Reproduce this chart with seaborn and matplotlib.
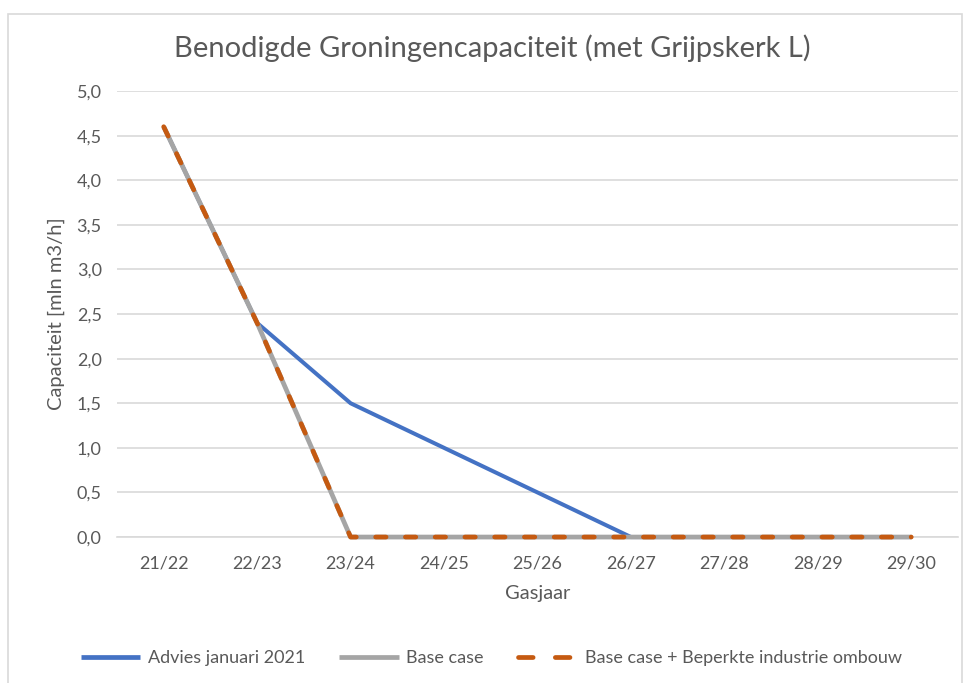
import pandas as pd
import matplotlib
matplotlib.use("Agg")
import matplotlib.pyplot as plt
import seaborn as sns
from matplotlib.lines import Line2D
from matplotlib.patches import Rectangle
from matplotlib.ticker import FuncFormatter

# ── data ──
gasjaar = ['21/22', '22/23', '23/24', '24/25', '25/26', '26/27', '27/28', '28/29', '29/30']
advies_2021 = [4.6, 2.4, 1.5, 1.0, 0.5, 0.0, 0.0, 0.0, 0.0]
base_case = [4.6, 2.4, 0.0, 0.0, 0.0, 0.0, 0.0, 0.0, 0.0]
base_beperkt = [4.6, 2.4, 0.0, 0.0, 0.0, 0.0, 0.0, 0.0, 0.0]

series = {
    'Advies januari 2021': advies_2021,
    'Base case': base_case,
    'Base case + Beperkte industrie ombouw': base_beperkt,
}
df = pd.DataFrame({'Gasjaar': gasjaar, **series})
df['pos'] = range(len(gasjaar))

sns.set_style('white')
plt.rcParams['font.family'] = ['Lato', 'DejaVu Sans']
txt = '#595959'

fig = plt.figure(figsize=(9.7, 6.83), dpi=100)
ax = fig.add_axes([0.1206, 0.2137, 0.867, 0.653])

# chart frame
fig.patches.append(Rectangle((8 / 970, -0.01), 954 / 970, 1 - 14 / 683 + 0.01,
                             transform=fig.transFigure, fill=False,
                             edgecolor='#D9D9D9', linewidth=1.2))

styles = {
    'Advies januari 2021': dict(color='#4472C4', lw=2.9, ls='-'),
    'Base case': dict(color='#A5A5A5', lw=3.4, ls='-'),
    'Base case + Beperkte industrie ombouw': dict(color='#C55A11', lw=3.4, ls=(0, (2.2, 4.1))),
}
for name, st in styles.items():
    sns.lineplot(data=df, x='pos', y=name, ax=ax, color=st['color'],
                 linewidth=st['lw'], linestyle=st['ls'], legend=False)
lines = ax.get_lines()
lines[2].set_dash_capstyle('round')
for ln in lines[:3]:
    ln.set_clip_on(False)
    ln.set_solid_capstyle('butt')

ax.set_xlim(-0.5, len(gasjaar) - 0.5)
ax.set_ylim(0, 5)
ax.set_yticks([i * 0.5 for i in range(11)])
ax.yaxis.set_major_formatter(FuncFormatter(lambda v, p: f'{v:.1f}'.replace('.', ',')))
ax.set_xticks(df['pos'])
ax.set_xticklabels(gasjaar)
ax.grid(True, axis='y', color='#D9D9D9', linewidth=1.2)
ax.set_axisbelow(True)
for s in ['top', 'right', 'left']:
    ax.spines[s].set_visible(False)
ax.spines['bottom'].set_color('#D9D9D9')
ax.spines['bottom'].set_linewidth(1.2)
ax.spines['bottom'].set_zorder(0.5)
ax.tick_params(axis='x', length=0, labelsize=13, labelcolor=txt, pad=13)
ax.tick_params(axis='y', length=0, labelsize=13, labelcolor=txt, pad=11)

ax.set_xlabel('Gasjaar', fontsize=14.5, color=txt, labelpad=10)
ax.set_ylabel('Capaciteit [mln m3/h]', fontsize=14.5, color=txt, labelpad=8)
fig.text(492 / 970, 1 - 48 / 683, 'Benodigde Groningencapaciteit (met Grijpskerk L)',
         fontsize=21, color=txt, ha='center', va='center')

# legend handles (orange one shows two dashes like the original)
handles = [
    Line2D([], [], color='#4472C4', lw=3.4, solid_capstyle='butt'),
    Line2D([], [], color='#A5A5A5', lw=3.4, solid_capstyle='butt'),
    Line2D([], [], color='#C55A11', lw=3.4, linestyle=(0, (3.1, 4.7)),
           dash_capstyle='round'),
]
ax.legend(handles, list(series.keys()), loc='center', bbox_to_anchor=(0.445, -0.272),
          ncol=3, frameon=False, fontsize=13, labelcolor=txt, handlelength=3.3,
          handletextpad=0.4, columnspacing=1.9)

fig.savefig('out.png', dpi=100)
